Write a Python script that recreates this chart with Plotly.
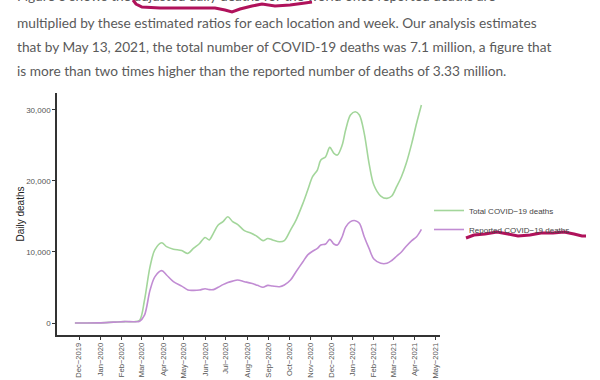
import plotly.graph_objects as go

# ---- data ----
dates = [
    "2019-11-25", "2019-12-09", "2019-12-30", "2020-01-20", "2020-02-05", "2020-02-19",
    "2020-02-27", "2020-03-05", "2020-03-13", "2020-03-20", "2020-03-30", "2020-04-06",
    "2020-04-16", "2020-04-28", "2020-05-07", "2020-05-15", "2020-05-24", "2020-06-01",
    "2020-06-07", "2020-06-13", "2020-06-20", "2020-06-27", "2020-07-04", "2020-07-11",
    "2020-07-18", "2020-07-28", "2020-08-07", "2020-08-16", "2020-08-24", "2020-08-31",
    "2020-09-07", "2020-09-17", "2020-09-24", "2020-10-03", "2020-10-11", "2020-10-21",
    "2020-10-28", "2020-11-04", "2020-11-11", "2020-11-16", "2020-11-23", "2020-11-29",
    "2020-12-05", "2020-12-10", "2020-12-17", "2020-12-22", "2020-12-29", "2021-01-05",
    "2021-01-11", "2021-01-18", "2021-01-25", "2021-02-01", "2021-02-11", "2021-02-20",
    "2021-02-27", "2021-03-06", "2021-03-13", "2021-03-20", "2021-03-28", "2021-04-04",
    "2021-04-11",
]
total_deaths = [
    0, 0, 20, 120, 200, 180,
    380, 3200, 7900, 10300, 11300, 10750,
    10400, 10200, 9800, 10500, 11200, 12050,
    11700, 12630, 13800, 14270, 14970, 14270,
    13900, 13000, 12630, 12150, 11600, 11900,
    11700, 11450, 11600, 13090, 14500, 16850,
    18730, 20600, 21540, 22950, 23420, 24730,
    23890, 23650, 25060, 27170, 29290, 29750,
    29290, 26710, 22490, 19430, 17880, 17550,
    17880, 19190, 20600, 22490, 25300, 28120,
    30690,
]
reported_deaths = [
    0, 0, 20, 120, 200, 180,
    250, 1100, 4600, 6500, 7370, 6760,
    5820, 5200, 4650, 4600, 4650, 4830,
    4700, 4700, 5030, 5400, 5700, 5900,
    6050, 5820, 5590, 5300, 5030, 5300,
    5200, 5110, 5350, 6050, 7220, 8630,
    9600, 10100, 10500, 10980, 11120, 11780,
    11120, 10980, 12150, 13500, 14270, 14410,
    14040, 12150, 10500, 9000, 8410, 8410,
    8800, 9400, 10000, 10800, 11600, 12150,
    13190,
]
tick_dates = [
    "2019-12-01", "2020-01-01", "2020-02-01", "2020-03-01", "2020-04-01", "2020-05-01",
    "2020-06-01", "2020-07-01", "2020-08-01", "2020-09-01", "2020-10-01", "2020-11-01",
    "2020-12-01", "2021-01-01", "2021-02-01", "2021-03-01", "2021-04-01", "2021-05-01",
]
tick_labels = [
    "Dec\u22122019", "Jan\u22122020", "Feb\u22122020", "Mar\u22122020", "Apr\u22122020",
    "May\u22122020", "Jun\u22122020", "Jul\u22122020", "Aug\u22122020", "Sep\u22122020",
    "Oct\u22122020", "Nov\u22122020", "Dec\u22122020", "Jan\u22122021", "Feb\u22122021",
    "Mar\u22122021", "Apr\u22122021", "May\u22122021",
]
y_ticks = [0, 10000, 20000, 30000]
y_tick_labels = ["0", "10,000", "20,000", "30,000"]

paragraph = [
    "Figure 3 shows the adjusted daily deaths for the world once reported deaths are",
    "multiplied by these estimated ratios for each location and week. Our analysis estimates",
    "that by May 13, 2021, the total number of COVID-19 deaths was 7.1 million, a figure that",
    "is more than two times higher than the reported number of deaths of 3.33 million.",
]

# ---- layout geometry (pixels) ----
W, H = 600, 380
L, R, T, B = 57, 160, 93, 45
PW, PH = W - L - R, H - T - B


def px(x):
    return (x - L) / PW


def py(y):
    return (H - B - y) / PH


GREEN = "#a3d69b"
PURPLE = "#c18cd3"
INK = "#b0125b"

fig = go.Figure()
fig.add_trace(go.Scatter(
    x=dates, y=total_deaths, mode="lines", name="Total COVID\u221219 deaths",
    line=dict(color=GREEN, width=1.6, shape="spline", smoothing=0.9),
))
fig.add_trace(go.Scatter(
    x=dates, y=reported_deaths, mode="lines", name="Reported COVID\u221219 deaths",
    line=dict(color=PURPLE, width=1.6, shape="spline", smoothing=0.9),
))

annotations = []
line_y = [-5, 22, 46, 70]
for txt, yy in zip(paragraph, line_y):
    annotations.append(dict(
        text=txt, xref="paper", yref="paper", x=px(15), y=py(yy),
        xanchor="left", yanchor="middle", showarrow=False,
        font=dict(family="Lato", size=13.7, color="#5a5a5a"),
    ))

# hand-drawn marker scribbles
def path_from(pts):
    s = "M {} {}".format(px(pts[0][0]), py(pts[0][1]))
    for a, b in pts[1:]:
        s += " L {} {}".format(px(a), py(b))
    return s

scribble_top = [(133, 0), (136, 4), (142, 7), (160, 8), (190, 8), (215, 8), (225, 10),
                (232, 12), (240, 9), (252, 6), (262, 4), (275, 6), (290, 5), (305, 3),
                (312, 2)]
scribble_legend = [(466, 238), (474, 235), (485, 234), (497, 232), (508, 234), (518, 236),
                   (530, 235), (541, 233), (553, 233), (564, 232), (574, 234), (582, 236),
                   (586, 236)]
shapes = [
    dict(type="path", xref="paper", yref="paper", path=path_from(scribble_top),
         line=dict(color=INK, width=3)),
    dict(type="path", xref="paper", yref="paper", path=path_from(scribble_legend),
         line=dict(color=INK, width=3)),
]

fig.update_layout(
    width=W, height=H,
    margin=dict(l=L, r=R, t=T, b=B, autoexpand=False),
    paper_bgcolor="white", plot_bgcolor="white",
    font=dict(family="Liberation Sans, Arial, sans-serif", color="#4d4d4d"),
    showlegend=True,
    legend=dict(x=px(429), y=py(196), xanchor="left", yanchor="top",
                font=dict(size=8, color="#444444"), bgcolor="rgba(0,0,0,0)",
                itemwidth=30, tracegroupgap=0),
    annotations=annotations,
    shapes=shapes,
    xaxis=dict(
        type="date", range=["2019-10-30", "2021-05-08"],
        tickmode="array", tickvals=tick_dates, ticktext=tick_labels,
        tickangle=-90, tickfont=dict(size=7.6, color="#555555"),
        showgrid=False, zeroline=False, showline=True, linecolor="#333333", linewidth=1.5,
        ticks="outside", ticklen=3, tickcolor="#333333", tickwidth=1,
    ),
    yaxis=dict(
        range=[-1690, 32390],
        tickmode="array", tickvals=y_ticks, ticktext=y_tick_labels,
        tickfont=dict(size=8, color="#555555"),
        showgrid=False, zeroline=False, showline=True, linecolor="#333333", linewidth=1.5,
        ticks="outside", ticklen=3, tickcolor="#333333", tickwidth=1,
        title=dict(text="Daily deaths", font=dict(size=10, color="#222222"), standoff=0),
    ),
)

fig.write_html(
    "out.html",
    config={"displayModeBar": False},
    post_script="document.body.style.margin='0';document.body.style.overflow='hidden';",
)
